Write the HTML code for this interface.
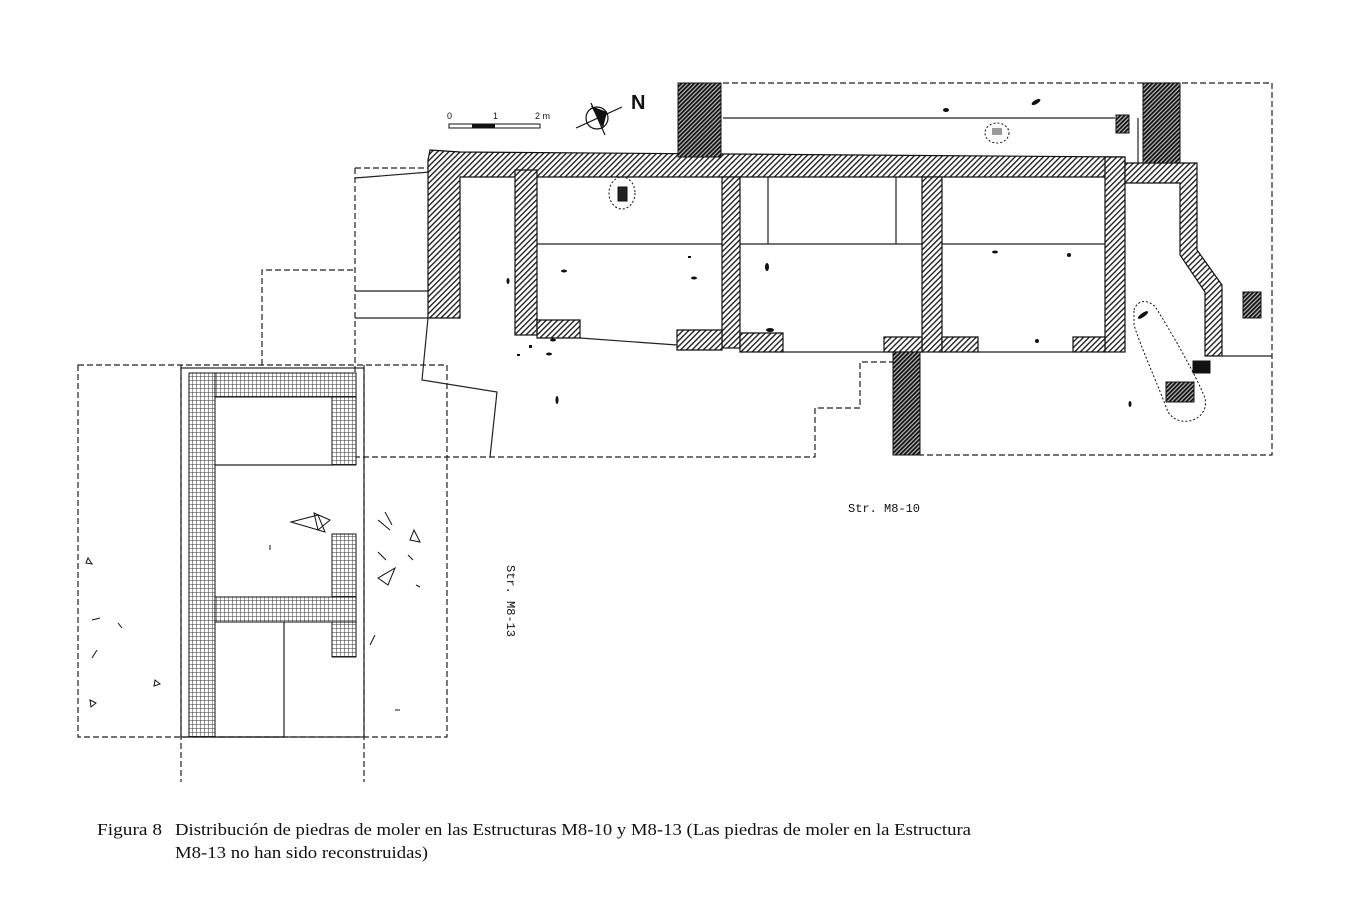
<!DOCTYPE html>
<html><head><meta charset="utf-8"><style>
html,body{margin:0;padding:0;background:#fff;}
svg{display:block;}
</style></head><body>
<svg width="1359" height="921" viewBox="0 0 1359 921" xmlns="http://www.w3.org/2000/svg">
<defs>
<pattern id="h" width="4" height="4" patternUnits="userSpaceOnUse" patternTransform="rotate(45)">
<rect width="4" height="4" fill="#fff"/><rect width="1.4" height="4" fill="#222"/></pattern>
<pattern id="hd" width="3" height="3" patternUnits="userSpaceOnUse" patternTransform="rotate(45)">
<rect width="3" height="3" fill="#bbb"/><rect width="1.8" height="3" fill="#111"/></pattern>
<pattern id="g" width="4" height="4" patternUnits="userSpaceOnUse">
<rect width="4" height="4" fill="#fff"/><path d="M0 0H4M0 0V4" stroke="#333" stroke-width="1"/></pattern>
</defs>
<g fill="none" stroke="#222" stroke-width="1.2" stroke-dasharray="6,3">
<path d="M723 83H1272V455H920"/>
<path d="M355 168H430M355 168V457H815V408H860V362H893"/>
<path d="M262 365V270H355"/>
<path d="M78 365H447V737H78Z"/>
<path d="M181 365V782M364 365V782"/>
</g>
<g fill="none" stroke="#222" stroke-width="1.2">
<path d="M723 118H1115"/>
<path d="M1222 356H1272"/>
<path d="M355 178L430 172M355 291H428M355 318H428"/>
<path d="M428 318L422 380L497 392L490 457"/>
<path d="M537 244H722M740 244H922M942 244H1105"/>
<path d="M768 177V244M896 177V244"/>
<path d="M580 338L677 345M783 352L884 352M978 352H1073"/>
<path d="M1138 118V163"/>
<rect x="181" y="368" width="183" height="369"/>
<path d="M215 465H332M284 622V737M215 737H284"/>
</g>
<g fill="url(#h)" stroke="#111" stroke-width="1.2">
<path d="M430 150L460 152L1125 157V177H460V318H428V160Z"/>
<rect x="515" y="170" width="22" height="165"/>
<rect x="722" y="177" width="18" height="171"/>
<rect x="922" y="177" width="20" height="175"/>
<rect x="1105" y="157" width="20" height="195"/>
<path d="M537 320H580V338H537Z"/>
<path d="M677 330H722V350H677Z"/>
<path d="M740 333H783V352H740Z"/>
<path d="M884 337H922V352H884Z"/>
<path d="M942 337H978V352H942Z"/>
<path d="M1073 337H1105V352H1073Z"/>
<path d="M1125 163H1197V250L1222 285V356H1205V292L1180 255V183H1125Z"/>
</g>
<g fill="url(#hd)" stroke="#111" stroke-width="1">
<rect x="678" y="83" width="43" height="74"/>
<rect x="1143" y="83" width="37" height="80"/>
<rect x="893" y="352" width="27" height="103"/>
<rect x="1116" y="115" width="13" height="18"/>
<rect x="1243" y="292" width="18" height="26"/>
<rect x="1166" y="382" width="28" height="20"/>
<rect x="1193" y="361" width="17" height="12" fill="#111"/>
<rect x="618" y="187" width="9" height="14" fill="#222"/>
</g>
<g fill="url(#g)" stroke="#111" stroke-width="1">
<rect x="189" y="373" width="26" height="364"/>
<rect x="215" y="373" width="141" height="24"/>
<rect x="332" y="397" width="24" height="68"/>
<rect x="332" y="534" width="24" height="63"/>
<rect x="215" y="597" width="141" height="25"/>
<rect x="332" y="622" width="24" height="35"/>
</g>
<g fill="none" stroke="#111" stroke-width="1" stroke-dasharray="2,2">
<ellipse cx="622" cy="193" rx="13" ry="16"/>
<ellipse cx="997" cy="133" rx="12" ry="10"/>
<path d="M1134 310C1138 298 1150 300 1156 308C1170 330 1196 375 1205 398C1210 420 1180 430 1168 412C1158 385 1140 345 1134 325Z"/>
</g>
<g fill="#111">
<ellipse cx="946" cy="110" rx="3" ry="2"/><ellipse cx="1036" cy="102" rx="5" ry="2" transform="rotate(-30 1036 102)"/>
<ellipse cx="1143" cy="315" rx="6" ry="2" transform="rotate(-35 1143 315)"/>
<ellipse cx="995" cy="252" rx="3" ry="1.5"/><circle cx="1069" cy="255" r="2"/><circle cx="1037" cy="341" r="2"/>
<ellipse cx="564" cy="271" rx="3" ry="1.5"/><ellipse cx="694" cy="278" rx="3" ry="1.5"/><rect x="688" y="256" width="3" height="2"/>
<ellipse cx="767" cy="267" rx="2" ry="4"/><ellipse cx="770" cy="330" rx="4" ry="2"/>
<ellipse cx="508" cy="281" rx="1.5" ry="3"/><ellipse cx="553" cy="340" rx="3" ry="1.5"/><ellipse cx="549" cy="354" rx="3" ry="1.5"/>
<rect x="529" y="345" width="3" height="3"/><rect x="517" y="354" width="3" height="2"/><ellipse cx="557" cy="400" rx="1.5" ry="4"/>
<ellipse cx="1130" cy="404" rx="1.5" ry="3"/><rect x="992" y="128" width="10" height="7" fill="#999"/>
</g>
<g fill="none" stroke="#111" stroke-width="1">
<path d="M291 522L318 515L325 532Z"/><path d="M314 513L330 520L318 530Z"/>
<path d="M395 568L388 585L378 578Z"/><path d="M414 530L420 542L410 540Z"/>
<path d="M88 558L92 564L86 563Z"/><path d="M155 680L160 684L154 686Z"/><path d="M90 700L96 703L91 707Z"/>
<path d="M378 520L390 530M385 512L392 525M378 552L386 560M370 645L375 635M92 620L100 618M118 623L122 628M92 658L97 650M270 545V550M408 555L413 560M416 585L420 587M395 710H400"/>
</g>
<rect x="449" y="124" width="91" height="4" fill="#fff" stroke="#111"/>
<rect x="472" y="124" width="23" height="4" fill="#111"/>
<g font-family="Liberation Sans, sans-serif" font-size="9" fill="#111">
<text x="447" y="119">0</text><text x="493" y="119">1</text><text x="535" y="119">2 m</text>
</g>
<circle cx="597" cy="118" r="11" fill="none" stroke="#111" stroke-width="1.2"/>
<path d="M576 128L622 107M591 103L605 135" stroke="#111" stroke-width="1.2"/>
<path d="M591 106L607 112L603 128Z" fill="#111"/>
<text x="631" y="109" font-family="Liberation Sans, sans-serif" font-weight="bold" font-size="20" fill="#111">N</text>
<text x="848" y="512" font-family="Liberation Mono, monospace" font-size="12" fill="#111">Str. M8-10</text>
<text transform="translate(507 565) rotate(90)" font-family="Liberation Mono, monospace" font-size="12" fill="#111">Str. M8-13</text>
<g font-family="Liberation Serif, serif" font-size="17" fill="#111">
<text x="97" y="835" textLength="65" lengthAdjust="spacingAndGlyphs">Figura 8</text>
<text x="175" y="835" textLength="796" lengthAdjust="spacingAndGlyphs">Distribución de piedras de moler en las Estructuras M8-10 y M8-13 (Las piedras de moler en la Estructura</text>
<text x="175" y="858" textLength="253" lengthAdjust="spacingAndGlyphs">M8-13 no han sido reconstruidas)</text>
</g>
</svg>
</body></html>
